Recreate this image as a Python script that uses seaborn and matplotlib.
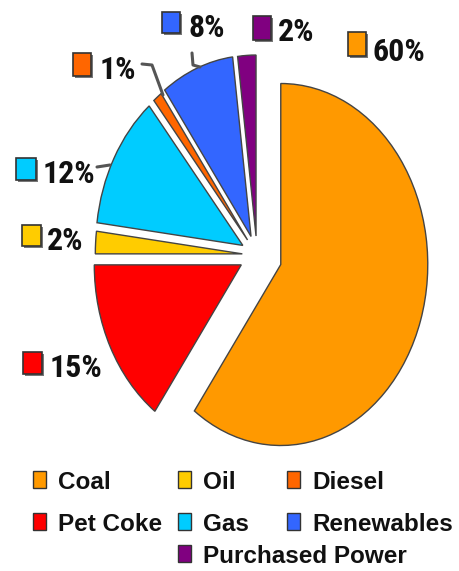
import matplotlib
matplotlib.use("Agg")
import matplotlib.pyplot as plt
from matplotlib import font_manager
from matplotlib.patches import Rectangle
import seaborn as sns

# ---- data ----
categories = ["Coal", "Pet Coke", "Oil", "Gas", "Diesel", "Renewables", "Purchased Power"]
shares = [60, 15, 2, 12, 1, 8, 2]
colors = ["#FF9900", "#FF0000", "#FFCC00", "#00CCFF", "#FF6600", "#3366FF", "#800080"]
pct_labels = ["60%", "15%", "2%", "12%", "1%", "8%", "2%"]
legend_order = ["Coal", "Oil", "Diesel", "Pet Coke", "Gas", "Renewables", "Purchased Power"]

sns.set_theme(style="white")

names = {f.name for f in font_manager.fontManager.ttflist}
label_family = [n for n in ["Roboto Condensed", "Archivo Narrow", "PT Sans Narrow",
                            "Liberation Sans", "DejaVu Sans"] if n in names]
plt.rcParams["font.family"] = ["Liberation Sans", "DejaVu Sans"]

W, H = 459, 571
fig = plt.figure(figsize=(W / 100, H / 100), dpi=100)
fig.patch.set_facecolor("white")

cx, cy = 257, 255      # pie centre in pixels
rx, ry = 147, 181      # pixel radii (the pie is drawn as a tall ellipse)
ax = fig.add_axes([0, 0, 1, 1])
explode = [0.17, 0.12, 0.10, 0.11, 0.105, 0.11, 0.105]
ax.pie(shares, colors=colors, startangle=90, counterclock=False, explode=explode,
       wedgeprops=dict(edgecolor="#444444", linewidth=1.0))
ax.set_aspect("auto")
ax.set_xlim(-cx / rx, (W - cx) / rx)
ax.set_ylim(-(H - cy) / ry, cy / ry)
ax.axis("off")


def fx(x):
    return x / W


def fy(y):
    return 1 - y / H


def square(x0, y0, x1, y1, color, lw=1.2):
    fig.patches.append(Rectangle((fx(x0 + 2), fy(y1 + 2)), (x1 - x0) / W, (y1 - y0) / H,
                                 transform=fig.transFigure, facecolor="#777777",
                                 edgecolor="none", zorder=4))
    fig.patches.append(Rectangle((fx(x0), fy(y1)), (x1 - x0) / W, (y1 - y0) / H,
                                 transform=fig.transFigure, facecolor=color,
                                 edgecolor="#333333", linewidth=lw, zorder=5))


# percentage labels: (square box, text x, baseline)
label_pos = {
    "Coal": ((348, 32, 366, 56), 373, 61),
    "Pet Coke": ((23, 352, 42, 374), 50, 377),
    "Oil": ((22, 225, 41, 246), 47, 250),
    "Gas": ((16, 158, 36, 180), 43, 183),
    "Diesel": ((73, 53, 91, 76), 100, 79),
    "Renewables": ((162, 12, 180, 33), 188, 37),
    "Purchased Power": ((253, 16, 271, 40), 278, 41),
}
for cat, col, lab in zip(categories, colors, pct_labels):
    box, tx, ty = label_pos[cat]
    square(*box, col)
    fig.text(fx(tx), fy(ty), lab, fontsize=23, fontweight="bold", family=label_family,
             color="#111111", va="baseline", ha="left")

# leader lines
for pts in [[(142, 64), (152, 65), (163, 95)],
            [(192, 53), (193, 65), (200, 67)],
            [(97, 167), (110, 165)]]:
    xs = [fx(p[0]) for p in pts]
    ys = [fy(p[1]) for p in pts]
    fig.add_artist(plt.Line2D(xs, ys, color="#555555", linewidth=2.2, transform=fig.transFigure))

# legend (manual grid)
leg_pos = {
    "Coal": (33, 489), "Oil": (178, 489), "Diesel": (287, 489),
    "Pet Coke": (33, 531), "Gas": (178, 531), "Renewables": (287, 531),
    "Purchased Power": (178, 563),
}
for cat in legend_order:
    x, b = leg_pos[cat]
    col = colors[categories.index(cat)]
    fig.patches.append(Rectangle((fx(x), fy(b - 1)), 13 / W, 17 / H, transform=fig.transFigure,
                                 facecolor=col, edgecolor="#333333", linewidth=1.0, zorder=5))
    fig.text(fx(x + 25), fy(b), cat, fontsize=17.5, fontweight="bold", color="#111111",
             va="baseline", ha="left")

fig.savefig("out.png", dpi=100, facecolor="white")
